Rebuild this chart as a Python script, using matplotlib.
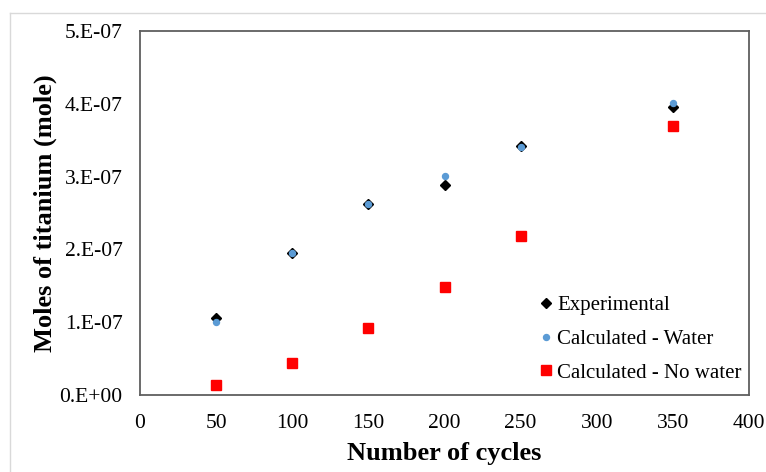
import matplotlib
matplotlib.use("Agg")
import matplotlib.pyplot as plt
from matplotlib.lines import Line2D

# ---------------------------------------------------------------------------
# Data
# ---------------------------------------------------------------------------
cycles = [50, 100, 150, 200, 250, 350]
experimental = [1.06e-7, 1.95e-7, 2.62e-7, 2.89e-7, 3.42e-7, 3.96e-7]
calc_water = [1.00e-7, 1.95e-7, 2.62e-7, 3.01e-7, 3.41e-7, 4.01e-7]
calc_no_water = [0.14e-7, 0.44e-7, 0.92e-7, 1.48e-7, 2.19e-7, 3.70e-7]

y_ticks = [0, 1e-7, 2e-7, 3e-7, 4e-7, 5e-7]
y_tick_labels = ["0.E+00", "1.E-07", "2.E-07", "3.E-07", "4.E-07", "5.E-07"]
x_ticks = [0, 50, 100, 150, 200, 250, 300, 350, 400]

plt.rcParams["font.family"] = ["Liberation Serif", "DejaVu Serif"]

fig = plt.figure(figsize=(7.66, 4.72), dpi=100)
ax = fig.add_axes([140 / 766, 77 / 472, 609 / 766, 364 / 472])

# faint chart-area border (top and left edges only, as in the screenshot)
fig.add_artist(Line2D([10 / 766, 10 / 766], [0, 1 - 13 / 472],
                      transform=fig.transFigure, color="#d9d9d9", lw=1))
fig.add_artist(Line2D([10 / 766, 1], [1 - 13 / 472, 1 - 13 / 472],
                      transform=fig.transFigure, color="#d9d9d9", lw=1))

ax.plot(cycles, calc_no_water, linestyle="none", marker="s", ms=7,
        color="#ff0000", label="Calculated - No water", zorder=2)
ax.plot(cycles, experimental, linestyle="none", marker="D", ms=5.5,
        color="black", label="Experimental", zorder=3)
ax.plot(cycles, calc_water, linestyle="none", marker="o", ms=4.3,
        color="#5b9bd5", label="Calculated - Water", zorder=4)

ax.set_xlim(0, 400)
ax.set_ylim(0, 5e-7)
ax.set_xticks(x_ticks)
ax.set_yticks(y_ticks)
ax.set_yticklabels(y_tick_labels)
ax.tick_params(axis="y", length=0, labelsize=15.5, pad=12.5)
ax.tick_params(axis="x", length=0, labelsize=15.5, pad=14)

for side in ["top", "bottom", "left", "right"]:
    ax.spines[side].set_color("#5f5f5f")
    ax.spines[side].set_linewidth(1.3)

ax.set_xlabel("Number of cycles", fontsize=19, fontweight="bold", labelpad=6)
ax.set_ylabel("Moles of titanium (mole)", fontsize=19, fontweight="bold", labelpad=2)

handles, labels = ax.get_legend_handles_labels()
order = [1, 2, 0]
ax.legend([handles[i] for i in order], [labels[i] for i in order],
          loc="lower right", frameon=False, fontsize=15,
          handlelength=0.5, handletextpad=0.3, labelspacing=0.68,
          borderaxespad=0.1, bbox_to_anchor=(1.005, 0.005))

fig.savefig("out.png", dpi=100)
